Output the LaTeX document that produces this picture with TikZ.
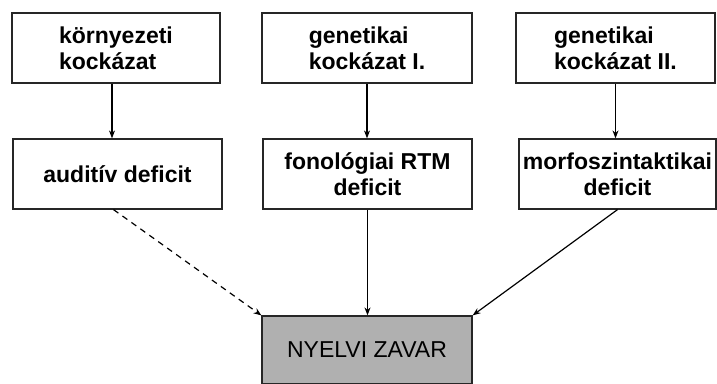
\documentclass[tikz,border=0pt]{standalone}
\usepackage{fontspec}
\setmainfont{Liberation Sans}
\usepackage{xcolor}
\usetikzlibrary{arrows.meta}
\definecolor{zavargray}{RGB}{176,176,176}

\begin{document}
\begin{tikzpicture}[x=1pt, y=1pt,
  block/.style={rectangle, draw=black!85, line width=1.2pt,
                minimum width=208pt, minimum height=70pt, inner sep=2pt,
                font=\fontsize{23}{26}\selectfont\bfseries},
  goal/.style={rectangle, draw=black!85, line width=1.2pt, fill=zavargray,
                minimum width=210pt, minimum height=68pt,
                font=\fontsize{23}{27}\selectfont},
  arr/.style={-{Stealth[length=8pt, width=6pt]}, line width=1.2pt},
  dasharr/.style={arr, dash pattern=on 6pt off 5pt}
]
\useasboundingbox (0,0) rectangle (717,383);

% Top row
\node[block, align=left] (env) at (116,335) {környezeti\\kockázat};
\node[block, align=left, minimum width=210pt] (gen1) at (367,335) {genetikai\\kockázat I.};
\node[block, align=left, minimum width=199pt] (gen2) at (615.5,335) {genetikai\\kockázat II.};

% Middle row
\node[block, minimum width=209pt] (aud) at (117.5,209) {auditív deficit};
\node[block, align=center, minimum width=209pt] (fon) at (367.5,209) {fonológiai RTM\\deficit};
\node[block, align=center, minimum width=197pt] (morf) at (617.5,209) {morfoszintaktikai\\deficit};

% Bottom
\node[goal] (zavar) at (367,33) {NYELVI ZAVAR};

% Arrows
\draw[arr] ([xshift=-4pt]env.south) -- ([xshift=-4pt]aud.north -| env.south);
\draw[arr] (gen1.south) -- (fon.north -| gen1.south);
\draw[arr] (gen2.south) -- (morf.north -| gen2.south);
\draw[dasharr] ([xshift=-4pt]aud.south) -- (zavar.north west);
\draw[arr] (fon.south) -- (zavar.north -| fon.south);
\draw[arr] (morf.south) -- (zavar.north east);
\end{tikzpicture}
\end{document}
